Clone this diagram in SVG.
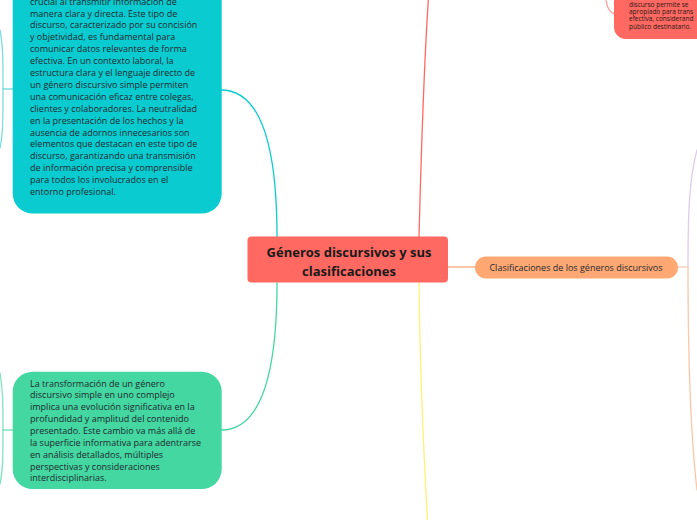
<svg xmlns="http://www.w3.org/2000/svg" width="697" height="520" viewBox="0 0 697 520">
<style>
.t{font-family:"Open Sans","Noto Sans","DejaVu Sans",sans-serif;fill:#1f2a2e}
.body{font-size:9px}
.small{font-size:6.5px;fill:#2a1515}
.title{font-size:13px;font-weight:bold;fill:#1a1a1a}
.c{fill:none;stroke-width:1.3;stroke-linecap:round}
</style>
<rect width="697" height="520" fill="#ffffff"/>
<g id="connectors">
  <path class="c" stroke="#0ACBD0" d="M221,90 C262,90 277,150 277,237"/>
  <path class="c" stroke="#44D7A1" d="M221,430 C262,430 277,370 277,283"/>
  <path class="c" stroke="#FF6961" stroke-width="1.6" d="M419,237 C421,160 424,60 429,-10"/>
  <path class="c" stroke="#FFF176" stroke-width="1.6" d="M419,283 C420,380 424,460 428,530"/>
  <path class="c" stroke="#FFB48A" d="M448,267 L475,267"/>
  <path class="c" stroke="#F6D2BE" d="M678,267 L688,267"/>
  <path class="c" stroke="#DCCCEA" stroke-width="1" d="M688,267 C688,215 689,180 697,150"/>
  <path class="c" stroke="#F8C8A8" stroke-width="1" d="M688,267 C688,330 690,430 697,490"/>
  <path class="c" stroke="#7EDDE2" stroke-width="1" d="M13,89 L3,89"/>
  <path class="c" stroke="#7EDDE2" stroke-width="1" d="M3,89 C3,60 3,45 0,30"/>
  <path class="c" stroke="#7EDDE2" stroke-width="1" d="M3,89 C3,118 3,135 0,148"/>
  <path class="c" stroke="#7FE3BF" stroke-width="1" d="M13,430 L3,430"/>
  <path class="c" stroke="#7FE3BF" stroke-width="1" d="M3,430 C3,405 3,390 0,373"/>
  <path class="c" stroke="#7FE3BF" stroke-width="1" d="M3,430 C3,455 3,470 0,484"/>
  <path class="c" stroke="#FFA09A" stroke-width="1" d="M606,0 C607,8 610,13 615,14"/>
</g>
<g id="node-central">
  <rect x="247.5" y="236.5" width="200.5" height="46" rx="4" fill="#FF6961"/>
  <text class="t title" text-anchor="middle" x="349" y="256.5">Géneros discursivos y sus</text>
  <text class="t title" text-anchor="middle" x="349" y="275.5">clasificaciones</text>
</g>
<g id="node-simple">
  <rect x="12.7" y="-40" width="209" height="253.5" rx="20" fill="#0ACBD0"/>
  <text class="t body" x="30" y="4.6">
    <tspan x="30">crucial al transmitir información de</tspan>
    <tspan x="30" dy="11.9">manera clara y directa. Este tipo de</tspan>
    <tspan x="30" dy="11.9">discurso, caracterizado por su concisión</tspan>
    <tspan x="30" dy="11.9">y objetividad, es fundamental para</tspan>
    <tspan x="30" dy="11.9">comunicar datos relevantes de forma</tspan>
    <tspan x="30" dy="11.9">efectiva. En un contexto laboral, la</tspan>
    <tspan x="30" dy="11.9">estructura clara y el lenguaje directo de</tspan>
    <tspan x="30" dy="11.9">un género discursivo simple permiten</tspan>
    <tspan x="30" dy="11.9">una comunicación eficaz entre colegas,</tspan>
    <tspan x="30" dy="11.9">clientes y colaboradores. La neutralidad</tspan>
    <tspan x="30" dy="11.9">en la presentación de los hechos y la</tspan>
    <tspan x="30" dy="11.9">ausencia de adornos innecesarios son</tspan>
    <tspan x="30" dy="11.9">elementos que destacan en este tipo de</tspan>
    <tspan x="30" dy="11.9">discurso, garantizando una transmisión</tspan>
    <tspan x="30" dy="11.9">de información precisa y comprensible</tspan>
    <tspan x="30" dy="11.9">para todos los involucrados en el</tspan>
    <tspan x="30" dy="11.9">entorno profesional.</tspan>
  </text>
</g>
<g id="node-complejo">
  <rect x="12.7" y="371.7" width="209" height="117.3" rx="20" fill="#44D7A1"/>
  <text class="t body" x="30" y="386.5">
    <tspan x="30">La transformación de un género</tspan>
    <tspan x="30" dy="11.87">discursivo simple en uno complejo</tspan>
    <tspan x="30" dy="11.87">implica una evolución significativa en la</tspan>
    <tspan x="30" dy="11.87">profundidad y amplitud del contenido</tspan>
    <tspan x="30" dy="11.87">presentado. Este cambio va más allá de</tspan>
    <tspan x="30" dy="11.87">la superficie informativa para adentrarse</tspan>
    <tspan x="30" dy="11.87">en análisis detallados, múltiples</tspan>
    <tspan x="30" dy="11.87">perspectivas y consideraciones</tspan>
    <tspan x="30" dy="11.87">interdisciplinarias.</tspan>
  </text>
</g>
<g id="node-clasificaciones">
  <rect x="475" y="256.5" width="203" height="22" rx="11" fill="#FFA873"/>
  <text class="t body" text-anchor="middle" x="576" y="270.5">Clasificaciones de los géneros discursivos</text>
</g>
<g id="node-top-right">
  <rect x="614" y="-30" width="120" height="69" rx="12" fill="#FF6961"/>
  <text class="t small" x="629" y="7.2">
    <tspan x="629">discurso permite se</tspan>
    <tspan x="629" dy="7.1">apropiado para trans</tspan>
    <tspan x="629" dy="7.1">efectiva, considerand</tspan>
    <tspan x="629" dy="7.1">público destinatario.</tspan>
  </text>
</g>
</svg>
